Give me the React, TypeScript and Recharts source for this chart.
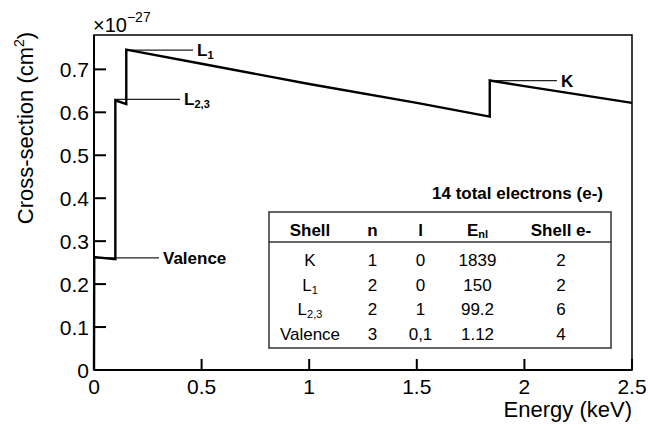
import React from 'react';
import { LineChart, Line, XAxis, YAxis, ReferenceLine, ReferenceArea } from 'recharts';

const FONT = "'Liberation Sans', Arial, Helvetica, sans-serif";

// photoabsorption cross-section (x in keV, y in 1e-27 cm^2)
const energyKeV = [0, 0.00112, 0.0992, 0.0992, 0.15, 0.15, 0.5, 1.0, 1.5, 1.839, 1.839, 2.0, 2.5];
const crossSection = [0, 0.263, 0.258, 0.628, 0.619, 0.746, 0.713, 0.666, 0.622, 0.59, 0.674, 0.661, 0.622];

const xTicks = [0, 0.5, 1, 1.5, 2, 2.5];
const xTickLabels = ['0', '0.5', '1', '1.5', '2', '2.5'];
const yTicks = [0, 0.1, 0.2, 0.3, 0.4, 0.5, 0.6, 0.7];
const yTickLabels = ['0', '0.1', '0.2', '0.3', '0.4', '0.5', '0.6', '0.7'];

// edge annotations
const edgeNames = ['Valence', 'L', 'L', 'K'];
const edgeSubs = ['', '2,3', '1', ''];
const edgeStart = [0, 0.0992, 0.15, 1.839];
const edgeEnd = [0.302, 0.4, 0.46, 2.151];
const edgeLevel = [0.261, 0.63, 0.745, 0.674];

// shell table
const tableTitle = '14 total electrons (e-)';
const shellNames = ['K', 'L', 'L', 'Valence'];
const shellSubs = ['', '1', '2,3', ''];
const shellN = ['1', '2', '2', '3'];
const shellL = ['0', '0', '1', '0,1'];
const shellEnl = ['1839', '150', '99.2', '1.12'];
const shellElectrons = ['2', '2', '6', '4'];

const chartData = energyKeV.map((e, i) => ({ energy: e, cs: crossSection[i] }));

const colX = [310, 372.5, 420.5, 477.5, 561];
const rowY = [266, 290.5, 315, 339.5];

const Y_TICK_GAP = 5;

// y ticks: label sits Y_TICK_GAP left of the axis, tick mark drawn inward from the axis
function YTick(props: any) {
	const { x, y, index } = props;
	const axisX = x + Y_TICK_GAP;
	return (
		<g>
			<line x1={axisX} x2={axisX + 12} y1={y} y2={y} stroke="#000" strokeWidth={2} />
			<text x={x} y={y + 7.5} textAnchor="end" fontSize={21} fontFamily={FONT} fill="#000">
				{yTickLabels[index]}
			</text>
		</g>
	);
}

// x ticks point inward (negative tickSize), tickMargin brings the label back to the axis line
function XTick(props: any) {
	const { x, y, index } = props;
	return (
		<text x={x} y={y + 24} textAnchor="middle" fontSize={21} fontFamily={FONT} fill="#000">
			{xTickLabels[index]}
		</text>
	);
}

function EdgeLabel(props: any) {
	const { viewBox, labelMain, labelSub } = props;
	if (!viewBox) return null;
	return (
		<text
			x={viewBox.x + viewBox.width + 4}
			y={viewBox.y + 6}
			fontSize={17}
			fontWeight="bold"
			fontFamily={FONT}
			fill="#000"
		>
			{labelMain}
			{labelSub && (
				<tspan fontSize={11} dy={3}>
					{labelSub}
				</tspan>
			)}
		</text>
	);
}

function ShellTable() {
	return (
		<g fontFamily={FONT} fill="#000">
			<text x={603} y={199} textAnchor="end" fontSize={17} fontWeight="bold">
				{tableTitle}
			</text>
			<rect x={269} y={212} width={342} height={136} fill="#fff" stroke="#333" strokeWidth={1.5} />
			<line x1={269} x2={611} y1={242} y2={242} stroke="#333" strokeWidth={1.5} />
			<g fontSize={17} fontWeight="bold" textAnchor="middle">
				<text x={colX[0]} y={235.5}>Shell</text>
				<text x={colX[1]} y={235.5}>n</text>
				<text x={colX[2]} y={235.5}>l</text>
				<text x={colX[3]} y={235.5}>
					E<tspan fontSize={11} dy={2}>nl</tspan>
				</text>
				<text x={colX[4]} y={235.5}>Shell e-</text>
			</g>
			<g fontSize={17} textAnchor="middle">
				{shellNames.map((name, i) => (
					<g key={name + i}>
						<text x={colX[0]} y={rowY[i]}>
							{name}
							{shellSubs[i] && (
								<tspan fontSize={11} dy={3}>
									{shellSubs[i]}
								</tspan>
							)}
						</text>
						<text x={colX[1]} y={rowY[i]}>{shellN[i]}</text>
						<text x={colX[2]} y={rowY[i]}>{shellL[i]}</text>
						<text x={colX[3]} y={rowY[i]}>{shellEnl[i]}</text>
						<text x={colX[4]} y={rowY[i]}>{shellElectrons[i]}</text>
					</g>
				))}
			</g>
		</g>
	);
}

export default function App() {
	return (
		<div style={{ position: 'absolute', left: 0, top: 0, width: 648, height: 430, background: '#fff' }}>
			<LineChart
				width={648}
				height={430}
				data={chartData}
				margin={{ top: 35, right: 16, bottom: 30, left: 34 }}
			>
				<XAxis
					dataKey="energy"
					type="number"
					domain={[0, 2.5]}
					ticks={xTicks}
					height={30}
					tickSize={-11}
					tickMargin={11}
					tickLine={{ stroke: '#000', strokeWidth: 2 }}
					axisLine={{ stroke: '#000', strokeWidth: 2 }}
					tick={<XTick />}
					interval={0}
				/>
				<YAxis
					type="number"
					domain={[0, 0.78]}
					ticks={yTicks}
					width={60}
					tickSize={Y_TICK_GAP}
					tickMargin={0}
					tickLine={false}
					axisLine={{ stroke: '#000', strokeWidth: 2 }}
					tick={<YTick />}
					interval={0}
				/>
				<ReferenceArea x1={0} x2={2.5} y1={0} y2={0.78} fill="none" stroke="#000" strokeWidth={1.5} />
				{edgeNames.map((name, i) => (
					<ReferenceLine
						key={name + i}
						segment={[
							{ x: edgeStart[i], y: edgeLevel[i] },
							{ x: edgeEnd[i], y: edgeLevel[i] },
						]}
						stroke="#222"
						strokeWidth={1.3}
						label={<EdgeLabel labelMain={name} labelSub={edgeSubs[i]} />}
					/>
				))}
				<Line
					dataKey="cs"
					type="linear"
					dot={false}
					stroke="#000"
					strokeWidth={2.4}
					isAnimationActive={false}
				/>
			</LineChart>
			<svg
				width={648}
				height={430}
				style={{ position: 'absolute', left: 0, top: 0, pointerEvents: 'none' }}
			>
				<text x={93} y={32} fontSize={20} fontFamily={FONT} fill="#000">
					×10
					<tspan fontSize={14} dy={-10}>
						−27
					</tspan>
				</text>
				<text
					transform="translate(33,128) rotate(-90)"
					textAnchor="middle"
					fontSize={22}
					fontFamily={FONT}
					fill="#000"
				>
					Cross-section (cm
					<tspan fontSize={14} dy={-9}>
						2
					</tspan>
					<tspan dy={9}>)</tspan>
				</text>
				<text x={632} y={417} textAnchor="end" fontSize={22} fontFamily={FONT} fill="#000">
					Energy (keV)
				</text>
				<ShellTable />
			</svg>
		</div>
	);
}
